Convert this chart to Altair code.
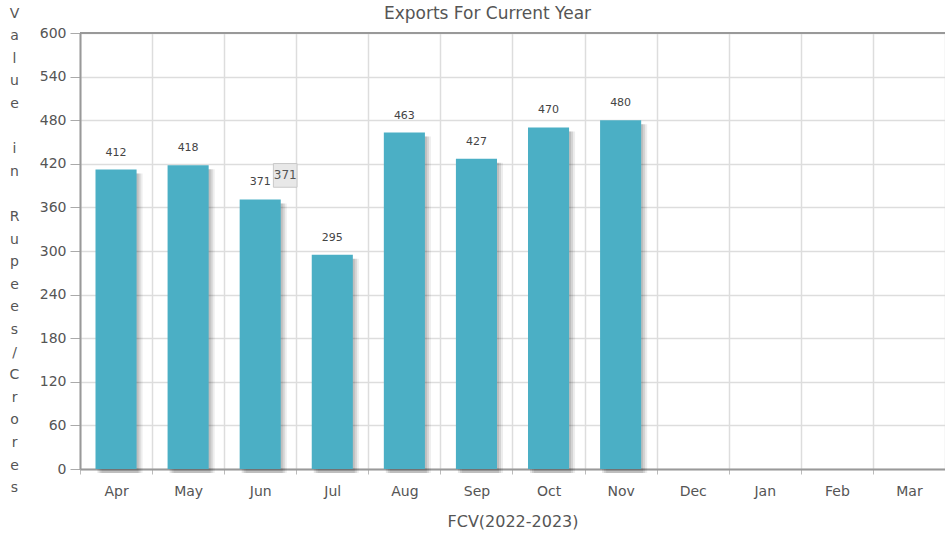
import altair as alt
import pandas as pd

months = ["Apr", "May", "Jun", "Jul", "Aug", "Sep", "Oct", "Nov", "Dec", "Jan", "Feb", "Mar"]
values = [412, 418, 371, 295, 463, 427, 470, 480, None, None, None, None]
y_ticks = [0, 60, 120, 180, 240, 300, 360, 420, 480, 540, 600]
tip_month = ["Jun"]
tip_value = [371]

y_title = [c if c != " " else "\u200b" for c in "Value in Rupees/Crores"]

df = pd.DataFrame({"month": months, "value": values})
tip_df = pd.DataFrame({"month": tip_month, "value": tip_value})

FONT = "DejaVu Sans"
TXT = "#555555"

x_enc = alt.X(
    "month:N",
    sort=months,
    scale=alt.Scale(domain=months, paddingInner=0, paddingOuter=0),
    axis=alt.Axis(
        title="FCV(2022-2023)",
        labelAngle=0,
        tickBand="extent",
        grid=True,
        gridColor="#dddddd",
        gridWidth=1.5,
        domainColor="#999999",
        domainWidth=2,
        tickColor="#bbbbbb",
        tickSize=5,
        labelPadding=10,
        labelFont=FONT,
        labelFontSize=14,
        labelColor=TXT,
        titleFont=FONT,
        titleFontSize=16,
        titleFontWeight="normal",
        titleColor=TXT,
        titlePadding=15,
    ),
)
y_enc = alt.Y(
    "value:Q",
    scale=alt.Scale(domain=[0, 600], nice=False),
    axis=alt.Axis(
        title=y_title,
        titleAngle=0,
        titleAlign="center",
        titleBaseline="top",
        titleX=-66,
        titleY=-27,
        titleLineHeight=22.6,
        titleFont=FONT,
        titleFontSize=14,
        titleFontWeight="normal",
        titleColor=TXT,
        values=y_ticks,
        grid=True,
        gridColor="#dddddd",
        gridWidth=1.5,
        domainColor="#999999",
        domainWidth=2,
        tickColor="#aaaaaa",
        tickSize=10,
        labelPadding=4,
        labelFont=FONT,
        labelFontSize=14,
        labelColor=TXT,
    ),
)

base = alt.Chart(df)
bw = alt.RelativeBandSize(0.57)

shadows = [
    base.mark_bar(color="#000000", opacity=op, xOffset=dx, yOffset=4, width=bw).encode(x=x_enc, y=y_enc)
    for dx, op in [(2, 0.10), (4, 0.10), (6, 0.07)]
]
bars = base.mark_bar(color="#4BAFC5", width=bw).encode(x=x_enc, y=y_enc)
labels = base.mark_text(dy=-17, font=FONT, fontSize=11, color="#444444").encode(
    x=alt.X("month:N", sort=months), y="value:Q", text="value:Q"
)
top_border = alt.Chart(pd.DataFrame({"v": [600]})).mark_rule(color="#999999", strokeWidth=2).encode(y="v:Q")

tip_box = alt.Chart(tip_df).mark_point(
    shape="square", size=560, filled=True, fill="#e8e8e8", stroke="#c8c8c8", strokeWidth=1,
    opacity=1, xOffset=25, yOffset=-24,
).encode(x=alt.X("month:N", sort=months), y="value:Q")
tip_text = alt.Chart(tip_df).mark_text(
    font=FONT, fontSize=12, color=TXT, dx=25, dy=-24
).encode(x=alt.X("month:N", sort=months), y="value:Q", text="value:Q")

chart = alt.layer(*shadows, bars, labels, top_border, tip_box, tip_text).properties(
    width=865,
    height=436,
    title=alt.TitleParams(
        "Exports For Current Year", font=FONT, fontSize=17, fontWeight="normal",
        color=TXT, anchor="middle", dx=-25, offset=-17,
    ),
    autosize=alt.AutoSizeParams(type="none"),
    padding={"left": 80, "top": 33, "right": 0, "bottom": 69},
).configure_view(stroke=None, fill="#FFFCF3").configure(background="white")

chart.save("out.html", embed_options={"renderer": "svg", "actions": False})
